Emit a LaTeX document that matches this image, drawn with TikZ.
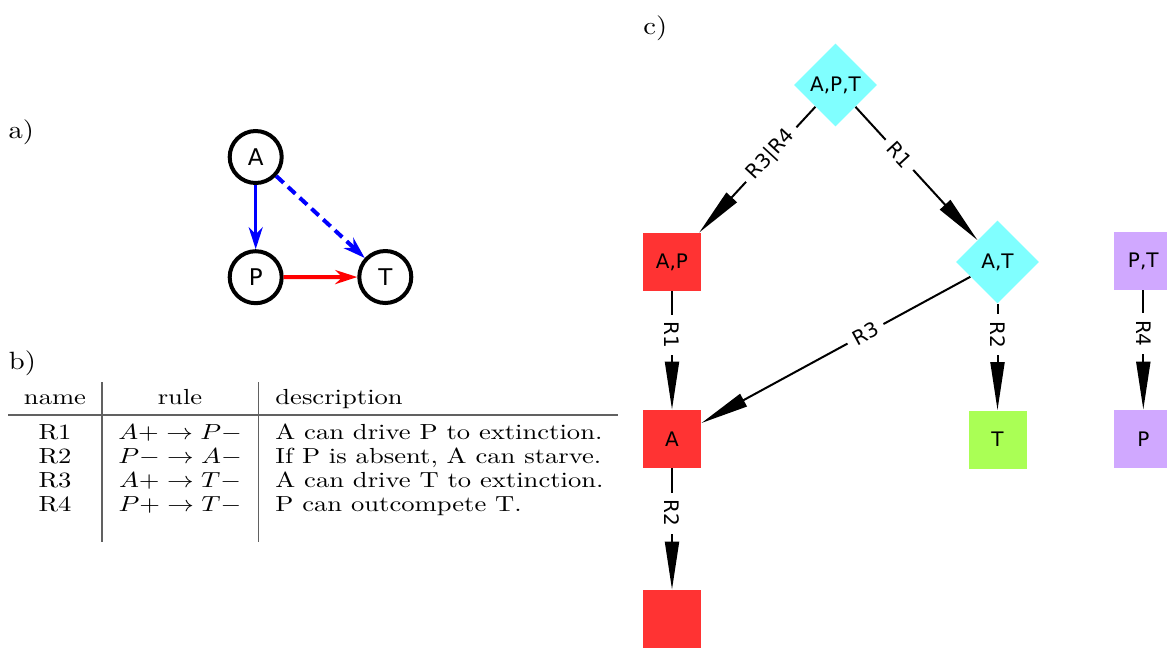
\documentclass[tikz,border=0pt]{standalone}
\usepackage{fontspec}
\usepackage{graphicx}
\usetikzlibrary{arrows.meta,shapes.geometric}
\newfontfamily\dvs{DejaVu Sans}
\definecolor{cRed}{RGB}{255,51,51}
\definecolor{cCyan}{RGB}{128,255,255}
\definecolor{cGreen}{RGB}{170,255,85}
\definecolor{cPurple}{RGB}{208,168,255}
\newcommand\sqz[1]{\scalebox{1.33}[1.0906]{\fontsize{10}{12}\selectfont #1}}
\newcommand\plab[1]{\scalebox{1.43}[1.25]{\fontsize{10}{12}\selectfont #1}}
\begin{document}
\begin{tikzpicture}[x=0.5pt,y=-0.5pt,
  lm/.style={inner sep=0pt},
  circ/.style={circle, draw, line width=2pt, minimum size=26pt, inner sep=0pt, font=\dvs\fontsize{11.5}{13}\selectfont},
  sqbox/.style={rectangle, minimum size=29pt, inner sep=0pt, font=\dvs\fontsize{10}{12}\selectfont},
  dia/.style={diamond, aspect=1, minimum width=41.5pt, minimum height=41.5pt, inner sep=0pt, fill=cCyan, font=\dvs\fontsize{10}{12}\selectfont},
  edge/.style={line width=1pt, -{Triangle[length=24pt,width=7pt]}},
  lbl/.style={fill=white, inner xsep=3.5pt, inner ysep=0.5pt, font=\dvs\fontsize{10}{12}\selectfont},
  tline/.style={line width=0.75pt, black!62},
  atip/.style={-{Stealth[length=11pt,width=7pt,inset=3.5pt]}}
]
\useasboundingbox (0,0) rectangle (1167,650);

% panel labels
\node[lm] (la) at (21.3,132) {\plab{a)}};
\node[lm] (lb) at (22.5,363) {\plab{b)}};
\node[lm] (lc) at (655.3,28) {\plab{c)}};

% panel a
\node[circ] (A) at (255.7,157) {A};
\node[circ] (P) at (255.7,277.2) {P};
\node[circ] (T) at (385.3,277) {T};
\draw[blue, line width=1.7pt, atip] (A) -- (P);
\draw[blue, line width=2pt, dash pattern=on 5pt off 3pt, atip] (A) -- (T);
\draw[red, line width=2pt, atip] (P) -- (T);

% panel b: table
\node[lm, anchor=base] (h1) at (55,404) {\sqz{name}};
\node[lm, anchor=base] (h2) at (180,404) {\sqz{rule}};
\node[lm, anchor=base west] (h3) at (275,404) {\sqz{description}};

\node[lm, anchor=base] (n1) at (55,439) {\sqz{R1}};
\node[lm, anchor=base] (r1) at (180,439) {\sqz{$A+\to P-$}};
\node[lm, anchor=base west] (d1) at (275,439) {\sqz{A can drive P to extinction.}};

\node[lm, anchor=base] (n2) at (55,463) {\sqz{R2}};
\node[lm, anchor=base] (r2) at (180,463) {\sqz{$P-\to A-$}};
\node[lm, anchor=base west] (d2) at (275,463) {\sqz{If P is absent, A can starve.}};

\node[lm, anchor=base] (n3) at (55,487) {\sqz{R3}};
\node[lm, anchor=base] (r3) at (180,487) {\sqz{$A+\to T-$}};
\node[lm, anchor=base west] (d3) at (275,487) {\sqz{A can drive T to extinction.}};

\node[lm, anchor=base] (n4) at (55,511) {\sqz{R4}};
\node[lm, anchor=base] (r4) at (180,511) {\sqz{$P+\to T-$}};
\node[lm, anchor=base west] (d4) at (275,511) {\sqz{P can outcompete T.}};

\draw[tline] (8,415) -- (618,415);
\draw[tline] (102,382) -- (102,542);
\draw[tline] (258.5,382) -- (258.5,542);

% panel c
\node[dia] (APT) at (835.5,85) {A,P,T};
\node[dia] (AT) at (997.5,262) {A,T};
\node[sqbox, fill=cRed] (AP) at (672,262) {A,P};
\node[sqbox, fill=cRed] (Ac) at (672,439) {A};
\node[sqbox, fill=cRed] (E) at (672,619) {};
\node[sqbox, fill=cGreen] (Tc) at (997.5,439.5) {T};
\node[sqbox, fill=cPurple] (PT) at (1143.3,261) {P,T};
\node[sqbox, fill=cPurple] (Pc) at (1143.3,439) {P};

\draw[edge] (APT) -- node[lbl, sloped, pos=0.38] {R3|R4} (AP);
\draw[edge] (APT) -- node[lbl, sloped, pos=0.36] {R1} (AT);
\draw[edge] (AT) -- node[lbl, sloped, pos=0.39] {R3} (Ac);
\draw[edge] (AP) -- node[lbl, rotate=-90, pos=0.37] {R1} (Ac);
\draw[edge] (AT) -- node[lbl, rotate=-90, pos=0.29] {R2} (Tc);
\draw[edge] (Ac) -- node[lbl, rotate=-90, pos=0.37] {R2} (E);
\draw[edge] (PT) -- node[lbl, rotate=-90, pos=0.36] {R4} (Pc);
\end{tikzpicture}
\end{document}
